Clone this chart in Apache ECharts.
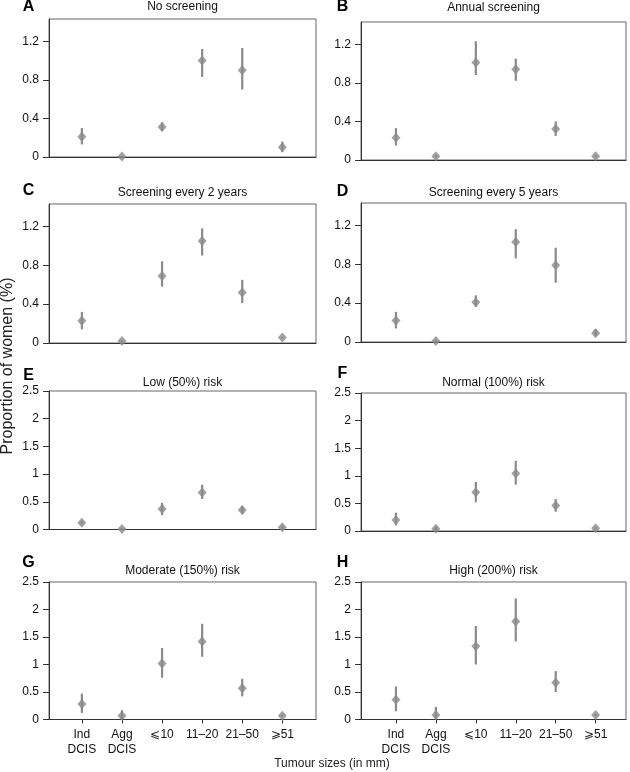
<!DOCTYPE html>
<html>
<head>
<meta charset="utf-8">
<script src="https://cdn.jsdelivr.net/npm/echarts@6/dist/echarts.min.js"></script>
<style>
html,body{margin:0;padding:0;background:#fff;}
#chart{width:630px;height:772px;}
</style>
</head>
<body>
<div id="chart"></div>
<script>
// ---- data ----
const categories = ['Ind\nDCIS', 'Agg\nDCIS', '\u2A7D10', '11\u201320', '21\u201350', '\u2A7E51'];
const topTickValues = [0, 0.4, 0.8, 1.2];
const bottomTickValues = [0, 0.5, 1, 1.5, 2, 2.5];

const noScreeningMean = [0.21, 0.005, 0.31, 1.00, 0.90, 0.10];
const noScreeningLow  = [0.13, 0.0,   0.27, 0.83, 0.70, 0.05];
const noScreeningHigh = [0.30, 0.01,  0.36, 1.12, 1.13, 0.16];

const annualMean = [0.23, 0.04, 1.01, 0.94, 0.32, 0.04];
const annualLow  = [0.15, 0.03, 0.88, 0.82, 0.25, 0.03];
const annualHigh = [0.33, 0.05, 1.23, 1.05, 0.40, 0.05];

const every2Mean = [0.23, 0.02, 0.69, 1.05, 0.52, 0.056];
const every2Low  = [0.14, 0.01, 0.58, 0.90, 0.41, 0.05];
const every2High = [0.32, 0.03, 0.84, 1.18, 0.65, 0.06];

const every5Mean = [0.22, 0.01, 0.41, 1.03, 0.79, 0.09];
const every5Low  = [0.14, 0.0,  0.36, 0.86, 0.61, 0.06];
const every5High = [0.31, 0.02, 0.48, 1.16, 0.97, 0.13];

const lowRiskMean = [0.12, 0.01, 0.37, 0.67, 0.35, 0.04];
const lowRiskLow  = [0.09, 0.0,  0.26, 0.55, 0.28, 0.02];
const lowRiskHigh = [0.16, 0.02, 0.48, 0.81, 0.42, 0.06];

const normalRiskMean = [0.20, 0.04, 0.70, 1.04, 0.46, 0.05];
const normalRiskLow  = [0.10, 0.01, 0.52, 0.84, 0.35, 0.03];
const normalRiskHigh = [0.33, 0.07, 0.89, 1.27, 0.58, 0.07];

const moderateRiskMean = [0.28, 0.07, 1.02, 1.42, 0.57, 0.07];
const moderateRiskLow  = [0.12, 0.0,  0.76, 1.14, 0.42, 0.05];
const moderateRiskHigh = [0.47, 0.17, 1.30, 1.74, 0.74, 0.09];

const highRiskMean = [0.36, 0.08, 1.33, 1.78, 0.67, 0.08];
const highRiskLow  = [0.15, 0.0,  1.00, 1.42, 0.50, 0.06];
const highRiskHigh = [0.60, 0.23, 1.70, 2.20, 0.88, 0.10];

const panelLetters = ['A', 'B', 'C', 'D', 'E', 'F', 'G', 'H'];
const panelTitles = ['No screening', 'Annual screening', 'Screening every 2 years', 'Screening every 5 years',
  'Low (50%) risk', 'Normal (100%) risk', 'Moderate (150%) risk', 'High (200%) risk'];
const panelMeans = [noScreeningMean, annualMean, every2Mean, every5Mean, lowRiskMean, normalRiskMean, moderateRiskMean, highRiskMean];
const panelLows  = [noScreeningLow, annualLow, every2Low, every5Low, lowRiskLow, normalRiskLow, moderateRiskLow, highRiskLow];
const panelHighs = [noScreeningHigh, annualHigh, every2High, every5High, lowRiskHigh, normalRiskHigh, moderateRiskHigh, highRiskHigh];
const yAxisTitle = 'Proportion of women (%)';
const xAxisTitle = 'Tumour sizes (in mm)';

// ---- layout ----
const FONT = '"Liberation Sans", Arial, Helvetica, sans-serif';
const cols = [
  {left: 49, width: 267, xMin: -0.82, xMax: 5.84, letterX: 28.5},
  {left: 361, width: 265, xMin: -0.875, xMax: 5.76, letterX: 342.5}
];
const rowsGeom = [
  [{top: 19, height: 138, letterY: 7, titleY: 7}, {top: 22, height: 138, letterY: 7, titleY: 7.3}],
  [{top: 204, height: 139, letterY: 191, titleY: 192.7}, {top: 203, height: 139, letterY: 191.5, titleY: 192.7}],
  [{top: 391, height: 138.5, letterY: 376, titleY: 382.7}, {top: 393, height: 138, letterY: 374, titleY: 382.7}],
  [{top: 582, height: 137.5, letterY: 562.5, titleY: 570.7}, {top: 582, height: 137.5, letterY: 562.5, titleY: 570.7}]
];
const markColor = '#8a8a8a';

const option = {animation: false, grid: [], xAxis: [], yAxis: [], series: [], graphic: []};

for (let i = 0; i < 8; i++) {
  const c = i % 2, r = Math.floor(i / 2);
  const col = cols[c], g = rowsGeom[r][c];
  const isBottom = r === 3;
  const yTicks = r < 2 ? topTickValues : bottomTickValues;
  const yMax = r < 2 ? 1.43 : 2.5;
  option.grid.push({left: col.left, top: g.top, width: col.width, height: g.height,
    show: true, borderColor: '#666', borderWidth: 1, backgroundColor: 'transparent'});
  option.xAxis.push({
    gridIndex: i, type: 'value', min: col.xMin, max: col.xMax,
    axisLine: {show: true, onZero: false, lineStyle: {color: '#333', width: 1}},
    axisTick: {show: isBottom, customValues: [0, 1, 2, 3, 4, 5], length: 4, lineStyle: {color: '#333'}},
    axisLabel: {show: isBottom, customValues: [0, 1, 2, 3, 4, 5],
      formatter: v => categories[Math.round(v)], margin: 8, fontSize: 12, lineHeight: 15,
      color: '#111', fontFamily: FONT},
    splitLine: {show: false}
  });
  option.yAxis.push({
    gridIndex: i, type: 'value', min: 0, max: yMax,
    axisLine: {show: true, onZero: false, lineStyle: {color: '#333', width: 1}},
    axisTick: {show: true, customValues: yTicks, length: 6, lineStyle: {color: '#333'}},
    axisLabel: {show: true, customValues: yTicks, formatter: v => String(v), margin: 10,
      fontSize: 12, color: '#111', fontFamily: FONT},
    splitLine: {show: false}
  });
  const errData = panelMeans[i].map((m, k) => [k, panelLows[i][k], panelHighs[i][k]]);
  const ptData = panelMeans[i].map((m, k) => [k, m]);
  option.series.push({
    type: 'custom', xAxisIndex: i, yAxisIndex: i, clip: false, z: 2,
    data: errData, encode: {x: 0, y: [1, 2]},
    renderItem: function (params, api) {
      const x = api.value(0);
      const p1 = api.coord([x, api.value(1)]);
      const p2 = api.coord([x, api.value(2)]);
      return {type: 'line', shape: {x1: p1[0], y1: p1[1], x2: p2[0], y2: p2[1]},
        style: {stroke: markColor, lineWidth: 2.2}};
    }
  });
  option.series.push({
    type: 'scatter', xAxisIndex: i, yAxisIndex: i, clip: false, z: 3,
    symbol: 'diamond', symbolSize: [9, 10], itemStyle: {color: markColor},
    data: ptData
  });
  option.graphic.push({type: 'text', x: col.letterX, y: g.letterY,
    style: {text: panelLetters[i], font: 'bold 16px ' + FONT, fill: '#000', align: 'center', verticalAlign: 'middle'}});
  option.graphic.push({type: 'text', x: col.left + col.width / 2, y: g.titleY,
    style: {text: panelTitles[i], font: '12px ' + FONT, fill: '#111', align: 'center', verticalAlign: 'middle'}});
}
option.graphic.push({type: 'text', x: 8, y: 366, rotation: Math.PI / 2,
  style: {text: yAxisTitle, font: '16px ' + FONT, fill: '#222', align: 'center', verticalAlign: 'middle'}});
option.graphic.push({type: 'text', x: 332, y: 764,
  style: {text: xAxisTitle, font: '12px ' + FONT, fill: '#222', align: 'center', verticalAlign: 'middle'}});

const chart = echarts.init(document.getElementById('chart'), null, {renderer: 'canvas'});
chart.setOption(option);
</script>
</body>
</html>
